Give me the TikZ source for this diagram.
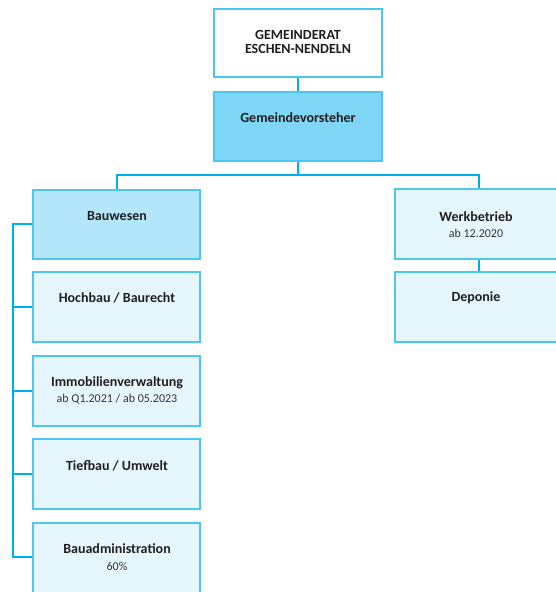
\documentclass[tikz,border=0pt]{standalone}
\usepackage{fontspec}
\setmainfont{Carlito}
\definecolor{lineblue}{HTML}{00AEEF}
\definecolor{boxborder}{HTML}{4CC6F2}
\definecolor{darkfill}{HTML}{80D6F7}
\definecolor{midfill}{HTML}{B3E6FA}
\definecolor{lightfill}{HTML}{E6F6FD}
\begin{document}
\begin{tikzpicture}[x=1pt,y=-1pt,
  box/.style={draw=boxborder, line width=1.3pt, fill=lightfill},
  ttl/.style={font=\bfseries\fontsize{14}{14}\selectfont, text=black!88, inner sep=0pt},
  sub/.style={font=\fontsize{12}{12}\selectfont, text=black!80, inner sep=0pt},
  conn/.style={draw=lineblue, line width=2.8pt}]
\useasboundingbox (0,0) rectangle (556,592);
% connectors
\coordinate (h1) at (117,175);
\coordinate (h2) at (479,175);
\coordinate (v0) at (13,224);
\coordinate (v1) at (13,307);
\coordinate (v2) at (13,391);
\coordinate (v3) at (13,474);
\coordinate (v4) at (13,557);
\draw[conn] (298,77) -- (298,92);
\draw[conn] (298,161) -- (298,175);
\draw[conn] (117,190) -- (h1) -- (h2) -- (479,190);
\draw[conn] (479,259) -- (479,272);
\draw[conn] (33,224) -- (v0) -- (v4) -- (33,557);
\draw[conn] (v1) -- (33,307);
\draw[conn] (v2) -- (33,391);
\draw[conn] (v3) -- (33,474);
% boxes
\draw[box, fill=white] (214,9) rectangle (382,77);
\node[ttl, align=center] (gr) at (298,42) {GEMEINDERAT\\ESCHEN-NENDELN};
\draw[box, fill=darkfill] (214,92) rectangle (382,161);
\node[ttl] (gv) at (298,118) {Gemeindevorsteher};
\draw[box, fill=midfill] (33,190) rectangle (200,259);
\node[ttl] (bw) at (117,216) {Bauwesen};
\draw[box] (33,272) rectangle (200,342);
\node[ttl] (hb) at (117,298) {Hochbau / Baurecht};
\draw[box] (33,356) rectangle (200,426);
\node[ttl] (iv) at (117,383) {Immobilienverwaltung};
\node[sub] (ivs) at (117,399) {ab Q1.2021 / ab 05.2023};
\draw[box] (33,439) rectangle (200,509);
\node[ttl] (tb) at (117,466) {Tiefbau / Umwelt};
\draw[box] (33,523) rectangle (200,593);
\node[ttl] (ba) at (117,549) {Bauadministration};
\node[sub] (bas) at (117,566) {60\%};
\draw[box] (395,189) rectangle (557,259);
\node[ttl] (wb) at (476,217) {Werkbetrieb};
\node[sub] (wbs) at (476,233) {ab 12.2020};
\draw[box] (395,272) rectangle (557,342);
\node[ttl] (dp) at (476,298) {Deponie};
\end{tikzpicture}
\end{document}
